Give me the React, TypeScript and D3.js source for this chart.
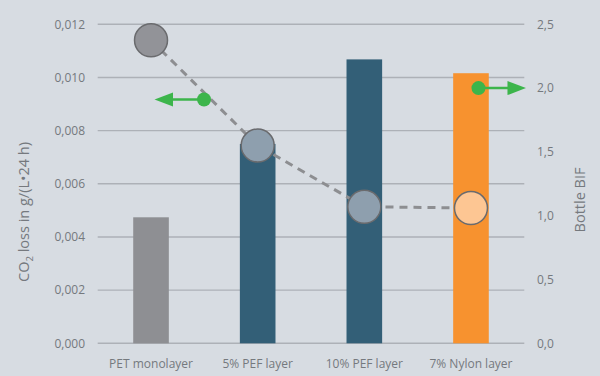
import React from "react";
import * as d3 from "d3";

const categories = ["PET monolayer", "5% PEF layer", "10% PEF layer", "7% Nylon layer"];
const co2Loss = [0.00474, 0.0075, 0.01068, 0.01016];
const bif = [2.375, 1.55, 1.07, 1.06];
const leftTicks = [0, 0.002, 0.004, 0.006, 0.008, 0.01, 0.012];
const rightTicks = [0, 0.5, 1.0, 1.5, 2.0, 2.5];
const barColors = ["#8e8f93", "#335f77", "#335f77", "#f7922f"];
const dotColors = ["#929398", "#8e9fae", "#8e9fae", "#fdc693"];
// arrow annotations: [category index, value]
const leftArrow = { cat: 0, value: 0.00917 };
const rightArrow = { cat: 3, value: 2.0 };

const W = 600, H = 376;
const M = { left: 97.7, right: 524.3, top: 24.3, bottom: 343.3 };
const TEXT = "#75797e";
const FONT = "'Open Sans', sans-serif";

export default function App() {
  const x = d3.scaleBand<string>().domain(categories).range([M.left, M.right]).paddingInner(0.666).paddingOuter(0.333);
  const yL = d3.scaleLinear().domain([0, 0.012]).range([M.bottom, M.top]);
  const yR = d3.scaleLinear().domain([0, 2.5]).range([M.bottom, M.top]);
  const cx = (c: string) => (x(c) as number) + x.bandwidth() / 2;
  const fmtL = (v: number) => d3.format(".3f")(v).replace(".", ",");
  const fmtR = (v: number) => d3.format(".1f")(v).replace(".", ",");
  const line = d3.line<number>().x((_, i) => cx(categories[i])).y((d) => yR(d));
  const green = "#3cb54b";

  const la = { x: cx(categories[leftArrow.cat]), y: yL(leftArrow.value) };
  const ra = { x: cx(categories[rightArrow.cat]), y: yR(rightArrow.value) };
  const lDotX = la.x + 53;
  const rDotX = ra.x + 7.5;

  return (
    <svg width={W} height={H} style={{ position: "absolute", left: 0, top: 0, display: "block" }} fontFamily={FONT}>
      <rect width={W} height={H} fill="#d7dce2" />
      {leftTicks.map((t) => (
        <g key={t}>
          <line x1={M.left} x2={M.right} y1={yL(t)} y2={yL(t)} stroke="#adb1b7" strokeWidth={1.4} />
          <text x={85} y={yL(t)} dy="0.35em" textAnchor="end" fontSize={12} fill={TEXT}>{fmtL(t)}</text>
        </g>
      ))}
      {rightTicks.map((t) => (
        <text key={t} x={537} y={yR(t)} dy="0.35em" textAnchor="start" fontSize={12} fill={TEXT}>{fmtR(t)}</text>
      ))}
      {categories.map((c, i) => (
        <rect key={c} x={x(c)} width={x.bandwidth()} y={yL(co2Loss[i])} height={yL(0) - yL(co2Loss[i])} fill={barColors[i]} />
      ))}
      <path d={line(bif) || ""} fill="none" stroke="#8d8e91" strokeWidth={3} strokeDasharray="8,6" />
      {categories.map((c, i) => (
        <circle key={c} cx={cx(c)} cy={yR(bif[i])} r={16.5} fill={dotColors[i]} stroke="#6a6b6e" strokeWidth={1.5} />
      ))}
      {/* left arrow */}
      <line x1={lDotX} x2={la.x + 20} y1={la.y} y2={la.y} stroke={green} strokeWidth={2.5} />
      <path d={`M${la.x + 3.5},${la.y} L${la.x + 22},${la.y - 7} L${la.x + 22},${la.y + 7} Z`} fill={green} />
      <circle cx={lDotX} cy={la.y} r={7} fill={green} />
      {/* right arrow */}
      <line x1={rDotX} x2={rDotX + 32} y1={ra.y} y2={ra.y} stroke={green} strokeWidth={2.5} />
      <path d={`M${rDotX + 47.5},${ra.y} L${rDotX + 29},${ra.y - 7} L${rDotX + 29},${ra.y + 7} Z`} fill={green} />
      <circle cx={rDotX} cy={ra.y} r={7} fill={green} />
      {categories.map((c) => (
        <text key={c} x={cx(c)} y={368} textAnchor="middle" fontSize={12} fill={TEXT}>{c}</text>
      ))}
      <text transform={`translate(28.5,212) rotate(-90)`} textAnchor="middle" fontSize={14.5} fill={TEXT}>
        CO<tspan fontSize={9.5} dy={4}>2</tspan><tspan dy={-4}> loss in g/(L•24 h)</tspan>
      </text>
      <text transform={`translate(585,200) rotate(-90)`} textAnchor="middle" fontSize={14.5} fill={TEXT}>Bottle BIF</text>
    </svg>
  );
}
